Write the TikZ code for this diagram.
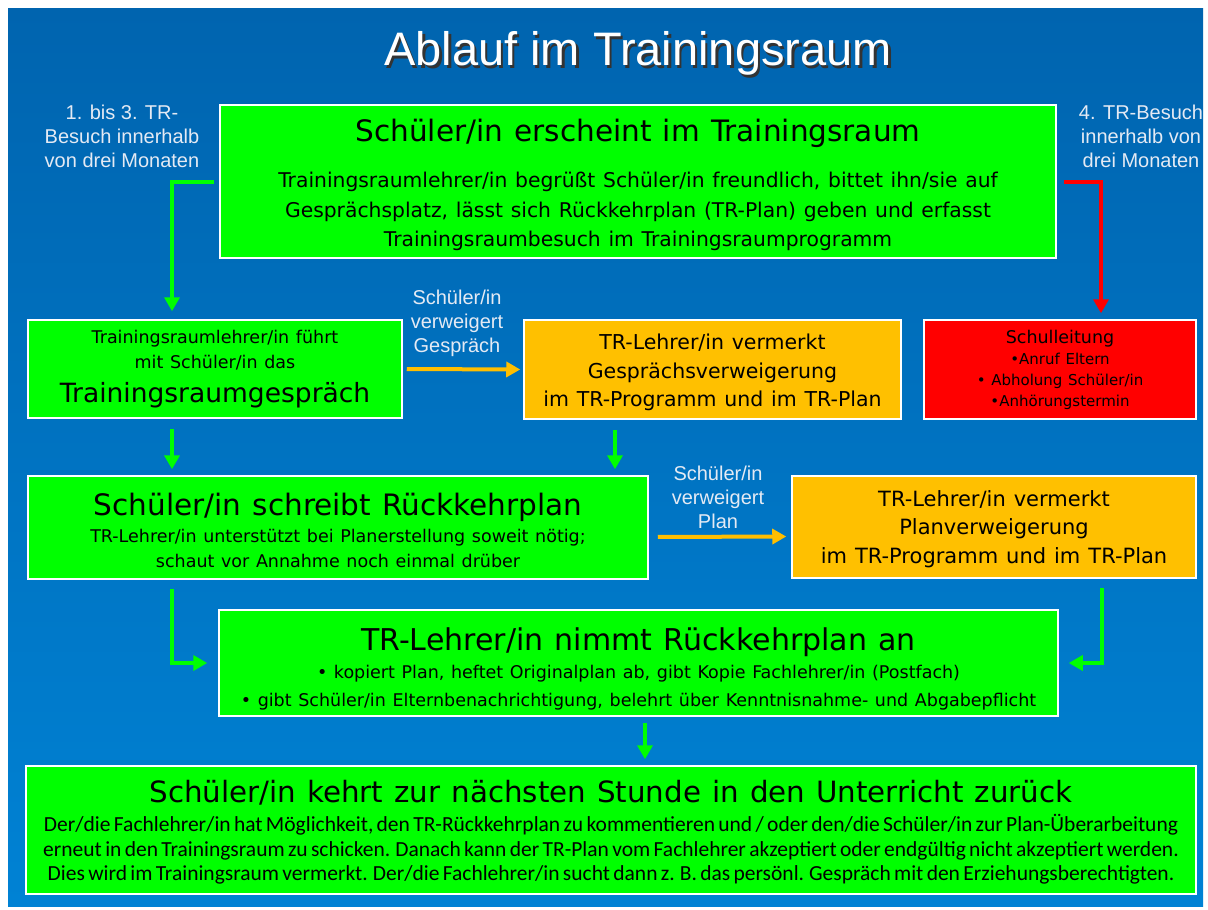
\documentclass[tikz,border=0pt]{standalone}
\usepackage{fontspec}
\setmainfont{Liberation Sans}
\newfontfamily\bxf{DejaVu Sans}
\newfontfamily\btf{Carlito}
\usetikzlibrary{arrows.meta,calc}
\definecolor{tgreen}{RGB}{0,255,0}
\definecolor{torange}{RGB}{255,192,0}
\definecolor{tred}{RGB}{255,0,0}
\definecolor{labc}{RGB}{228,234,244}
\definecolor{bgtop}{RGB}{0,100,175}
\definecolor{bgbot}{RGB}{0,130,212}
\definecolor{arrorange}{RGB}{255,190,0}
\newcommand\fz[2]{\fontsize{#1}{#2}\selectfont}
\newcommand\fb[2]{\fontsize{#1}{#2}\selectfont\spaceskip=0.38em\relax}
\begin{document}
\begin{tikzpicture}[x=1pt,y=-1pt,
  box/.style={rectangle, draw=white, line width=1.5pt, inner sep=0pt, align=center, text=black, font=\bxf},
  gbox/.style={box, fill=tgreen},
  obox/.style={box, fill=torange},
  rbox/.style={box, fill=tred},
  lab/.style={text=labc, align=center, font=\fz{20}{24}},
  garrow/.style={draw=tgreen, line width=4pt, -{Triangle[width=15pt,length=14pt]}},
  oarrow/.style={draw=arrorange, line width=4pt, -{Triangle[width=15pt,length=14pt]}},
  rarrow/.style={draw=tred, line width=4pt, -{Triangle[width=15pt,length=14pt]}}]
\useasboundingbox (0,0) rectangle (1208,910);
\fill[white] (0,0) rectangle (1208,910);
\shade[top color=bgtop, bottom color=bgbot] (8,8) rectangle (1203,906);

% title (with shadow)
\node[text=white, font=\fz{47}{50}] (title) at (638,55)
 {\makebox[0pt][l]{\hspace{2.5pt}\raisebox{-2.5pt}{\textcolor{black!80}{Ablauf im Trainingsraum}}}Ablauf im Trainingsraum};

% boxes
\node[gbox, minimum width=836, minimum height=153, text width=830] (top) at (638,181.5)
 {{\fb{29.5}{34}Schüler/in erscheint im Trainingsraum\par}\vspace{17pt}%
  {\fb{20.3}{29.5}Trainingsraumlehrer/in begrüßt Schüler/in freundlich, bittet ihn/sie auf\\
   Gesprächsplatz, lässt sich Rückkehrplan (TR-Plan) geben und erfasst\\
   Trainingsraumbesuch im Trainingsraumprogramm\par}\vspace{-7pt}};

\node[gbox, minimum width=374, minimum height=98, text width=370] (gespr) at (215,369)
 {{\fb{17.5}{25}Trainingsraumlehrer/in führt\\mit Schüler/in das\par}\vspace{0pt}%
  {\fb{26.5}{34}Trainingsraumgespräch\par}};

\node[obox, minimum width=377, minimum height=99, text width=370] (gverw) at (712.5,369.5)
 {{\fb{20.5}{28.5}TR-Lehrer/in vermerkt\\Gesprächsverweigerung\\im TR-Programm und im TR-Plan\par}\vspace{-6pt}};

\node[rbox, minimum width=272, minimum height=99, text width=268] (schull) at (1060,369.5)
 {{\fb{17.5}{21}Schulleitung\par}%
  {\fb{15}{21}\textbullet Anruf Eltern\\\textbullet\ Abholung Schüler/in\\\textbullet Anhörungstermin\par}};

\node[gbox, minimum width=620, minimum height=103, text width=614] (plan) at (338,527.5)
 {{\fb{29.5}{34}Schüler/in schreibt Rückkehrplan\par}\vspace{2pt}%
  {\fb{17.5}{25}TR-Lehrer/in unterstützt bei Planerstellung soweit nötig;\\
   schaut vor Annahme noch einmal drüber\par}\vspace{-6pt}};

\node[obox, minimum width=404, minimum height=102, text width=400] (pverw) at (994,527)
 {{\fb{21}{28.5}TR-Lehrer/in vermerkt\\Planverweigerung\\im TR-Programm und im TR-Plan\par}\vspace{-4pt}};

\node[gbox, minimum width=839, minimum height=106, text width=834] (annahme) at (638.5,663)
 {{\fb{30}{34}TR-Lehrer/in nimmt Rückkehrplan an\par}\vspace{0pt}%
  {\fb{17.5}{28}\textbullet\ kopiert Plan, heftet Originalplan ab, gibt Kopie Fachlehrer/in (Postfach)\\
   \textbullet\ gibt Schüler/in Elternbenachrichtigung, belehrt über Kenntnisnahme- und Abgabepflicht\par}\vspace{-12pt}};

\node[gbox, minimum width=1170, minimum height=128, text width=1166] (zurueck) at (611,830)
 {{\fb{29.3}{34}Schüler/in kehrt zur nächsten Stunde in den Unterricht zurück\par}\vspace{5pt}%
  {\btf\fz{21.5}{24.5}Der/die Fachlehrer/in hat Möglichkeit, den TR-Rückkehrplan zu kommentieren und / oder den/die Schüler/in zur Plan-Überarbeitung\\
   erneut in den Trainingsraum zu schicken. Danach kann der TR-Plan vom Fachlehrer akzeptiert oder endgültig nicht akzeptiert werden.\\
   Dies wird im Trainingsraum vermerkt. Der/die Fachlehrer/in sucht dann z. B. das persönl. Gespräch mit den Erziehungsberechtigten.\par}\vspace{-4pt}};

% labels
\node[lab] (l13) at (122,136) {1. bis 3. TR-\\Besuch innerhalb\\von drei Monaten};
\node[lab] (l4) at (1141,136) {4. TR-Besuch\\innerhalb von\\drei Monaten};
\node[lab] (lg) at (457,323) {Schüler/in\\verweigert\\Gespräch};
\node[lab] (lp) at (718,497) {Schüler/in\\verweigert\\Plan};

% helper coordinates
\coordinate (cl) at (172,0);
\coordinate (cr) at (1101,0);
\coordinate (cm) at (615,0);
\coordinate (cb) at (645,0);
\coordinate (cr2) at (1102,0);

% arrows
\draw[garrow, shorten <=5pt, shorten >=8pt] (top.west) -| (cl |- gespr.north);
\draw[rarrow, shorten <=7pt, shorten >=6pt] (top.east) -| (cr |- schull.north);
\draw[oarrow, shorten <=4pt, shorten >=3pt] (gespr.east) -- (gverw.west);
\draw[garrow, shorten <=10pt, shorten >=6pt] (cl |- gespr.south) -- (cl |- plan.north);
\draw[garrow, shorten <=10pt, shorten >=6pt] (cm |- gverw.south) -- (cm |- plan.north);
\draw[oarrow, shorten <=9pt, shorten >=5pt] ($(plan.east)+(0,9.5)$) -- ($(pverw.west)+(0,9.5)$);
\draw[garrow, shorten <=9pt, shorten >=11pt] (cl |- plan.south) |- (annahme.west);
\draw[garrow, shorten <=9pt, shorten >=10pt] (cr2 |- pverw.south) |- (annahme.east);
\draw[garrow, shorten <=6pt, shorten >=6pt] (cb |- annahme.south) -- (cb |- zurueck.north);
\end{tikzpicture}
\end{document}
